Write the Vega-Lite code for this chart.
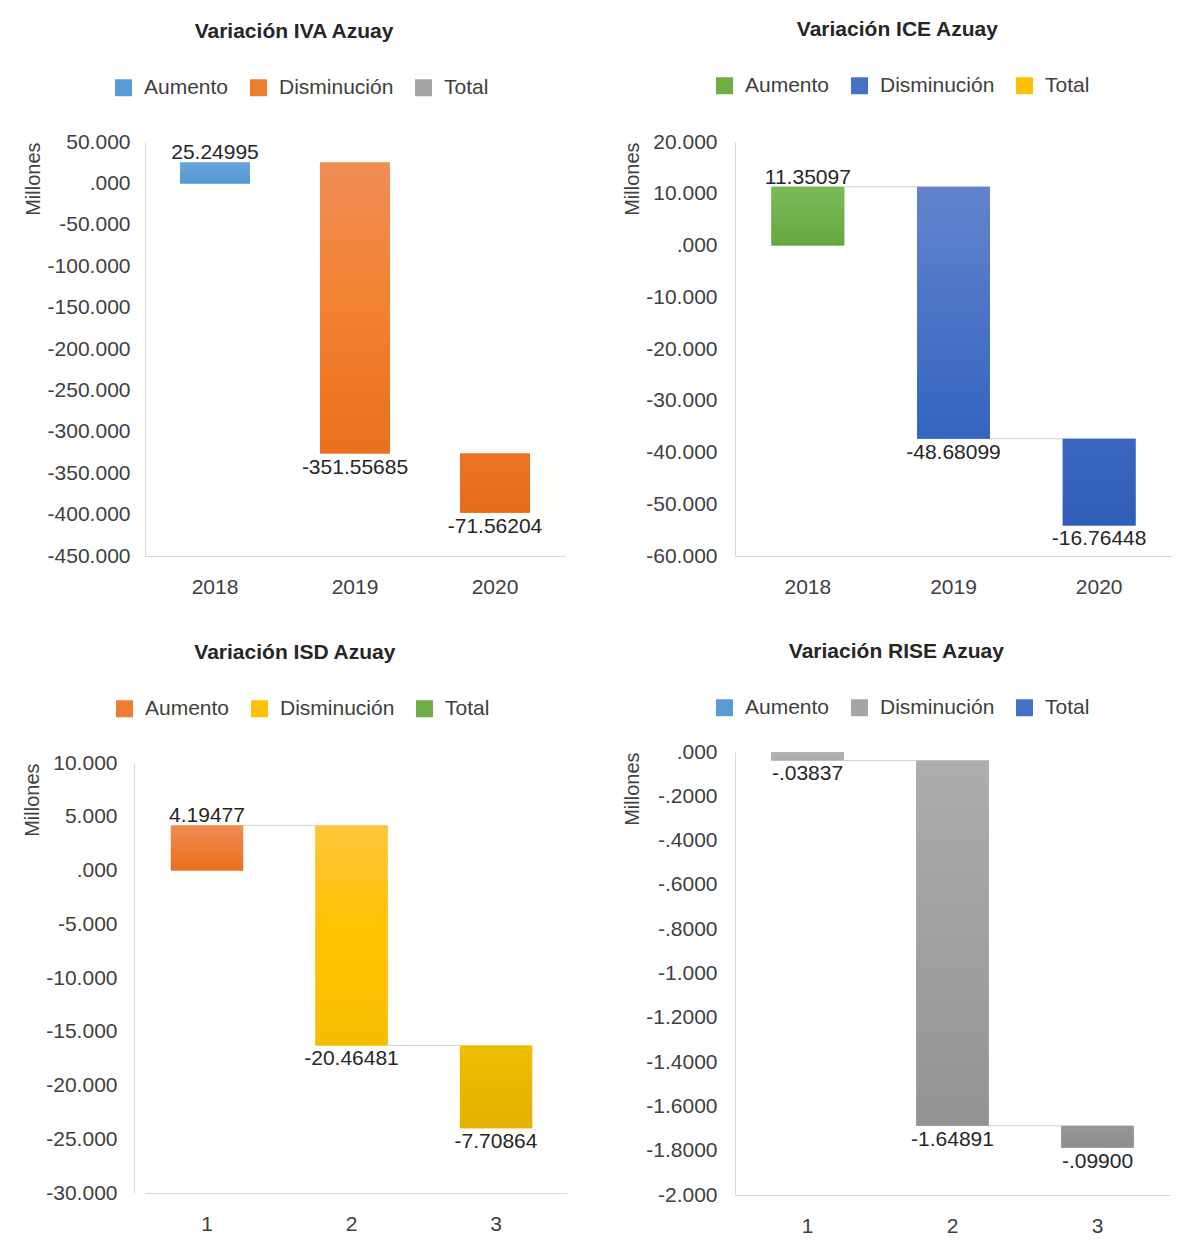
{
"$schema":"https://vega.github.io/schema/vega-lite/v6.json",
"padding":{"left":22,"top":19,"right":5,"bottom":5},
"spacing":55,
"datasets":{"bars":[
{"panel":"IVA","cat":"2018","type":"Aumento","start":0,"end":25.24995,"label":"25.24995"},
{"panel":"IVA","cat":"2019","type":"Disminución","start":25.24995,"end":-326.3069,"label":"-351.55685"},
{"panel":"IVA","cat":"2020","type":"Disminución","start":-326.3069,"end":-397.86894,"label":"-71.56204"},
{"panel":"ICE","cat":"2018","type":"Aumento","start":0,"end":11.35097,"label":"11.35097","next":"2019"},
{"panel":"ICE","cat":"2019","type":"Disminución","start":11.35097,"end":-37.33002,"label":"-48.68099","next":"2020"},
{"panel":"ICE","cat":"2020","type":"Disminución","start":-37.33002,"end":-54.0945,"label":"-16.76448"},
{"panel":"ISD","cat":"1","type":"Aumento","start":0,"end":4.19477,"label":"4.19477","next":"2"},
{"panel":"ISD","cat":"2","type":"Disminución","start":4.19477,"end":-16.27004,"label":"-20.46481","next":"3"},
{"panel":"ISD","cat":"3","type":"Disminución","start":-16.27004,"end":-23.97868,"label":"-7.70864"},
{"panel":"RISE","cat":"1","type":"Disminución","start":0,"end":-0.03837,"label":"-.03837","next":"2"},
{"panel":"RISE","cat":"2","type":"Disminución","start":-0.03837,"end":-1.68728,"label":"-1.64891","next":"3"},
{"panel":"RISE","cat":"3","type":"Disminución","start":-1.68728,"end":-1.78628,"label":"-.09900"}
]},
"data":{"name":"bars"},
"resolve":{"scale":{"color":"independent","x":"independent","y":"independent"},"legend":{"color":"independent"}},
"hconcat":[
{"spacing":45,
 "resolve":{"scale":{"color":"independent","x":"independent","y":"independent"},"legend":{"color":"independent"}},
 "vconcat":[
 {"width":420,"height":414,
  "title":{"text":"Variación IVA Azuay"},
  "transform":[{"filter":"datum.panel == 'IVA'"}],
  "encoding":{
   "x":{"field":"cat","type":"nominal","title":null,"scale":{"paddingInner":0.5,"paddingOuter":0.25}},
   "y":{"field":"end","type":"quantitative","title":"Millones","scale":{"domain":[-450,50],"nice":false,"zero":false},
        "axis":{"labelPadding":15,"titlePadding":4,"values":[50,0,-50,-100,-150,-200,-250,-300,-350,-400,-450],"labelExpr":"datum.value == 0 ? '.000' : (datum.value < 0 ? '-' : '') + format(abs(datum.value), '.3f')"}}
  },
  "layer":[
   {"mark":"bar","encoding":{"y2":{"field":"start"},"color":{"field":"type","type":"nominal","scale":{"domain":["Aumento","Disminución","Total"],"range":["#5b9bd5","#ed7d31","#a5a5a5"]},"legend":{"title":null,"orient":"none","legendX":-32,"legendY":-65}}}},
   {"mark":"bar","encoding":{"y2":{"field":"start"},"fill":{"condition":[
      {"test":"datum.cat == '2018'","value":{"gradient":"linear","x1":0,"y1":0,"x2":0,"y2":1,"stops":[{"offset":0,"color":"#6aa6dc"},{"offset":1,"color":"#5597d3"}]}},
      {"test":"datum.cat == '2019'","value":{"gradient":"linear","x1":0,"y1":0,"x2":0,"y2":1,"stops":[{"offset":0,"color":"#f08d55"},{"offset":0.5,"color":"#f38130"},{"offset":1,"color":"#e9701e"}]}}],
      "value":{"gradient":"linear","x1":0,"y1":0,"x2":0,"y2":1,"stops":[{"offset":0,"color":"#eb7522"},{"offset":1,"color":"#e56b1b"}]}}}},
   {"transform":[{"filter":"datum.type == 'Aumento'"}],"mark":{"type":"text","dy":-3,"baseline":"alphabetic"},"encoding":{"text":{"field":"label"}}},
   {"transform":[{"filter":"datum.type == 'Disminución'"}],"mark":{"type":"text","dy":20,"baseline":"alphabetic"},"encoding":{"text":{"field":"label"}}}
  ]},
 {"width":422,"height":430,
  "title":{"text":"Variación ISD Azuay"},
  "transform":[{"filter":"datum.panel == 'ISD'"}],
  "encoding":{
   "x":{"field":"cat","type":"nominal","title":null,"scale":{"paddingInner":0.5,"paddingOuter":0.21,"align":0.426}},
   "y":{"field":"end","type":"quantitative","title":"Millones","scale":{"domain":[-30,10],"nice":false,"zero":false},
        "axis":{"offset":11,"labelPadding":17,"titlePadding":3,"values":[10,5,0,-5,-10,-15,-20,-25,-30],"labelExpr":"datum.value == 0 ? '.000' : (datum.value < 0 ? '-' : '') + format(abs(datum.value), '.3f')"}}
  },
  "layer":[
   {"transform":[{"filter":"isValid(datum.next)"}],"mark":{"type":"rule","color":"#d0d0d0","strokeWidth":1},
    "encoding":{"x":{"field":"cat","type":"nominal","title":null,"bandPosition":1,"scale":{"paddingInner":0.5,"paddingOuter":0.21,"align":0.426}},"x2":{"field":"next","bandPosition":0}}},
   {"mark":"bar","encoding":{"y2":{"field":"start"},"color":{"field":"type","type":"nominal","scale":{"domain":["Aumento","Disminución","Total"],"range":["#ed7d31","#ffc000","#70ad47"]},"legend":{"title":null,"orient":"none","legendX":-31,"legendY":-65}}}},
   {"mark":"bar","encoding":{"y2":{"field":"start"},"fill":{"condition":[
      {"test":"datum.cat == '1'","value":{"gradient":"linear","x1":0,"y1":0,"x2":0,"y2":1,"stops":[{"offset":0,"color":"#f08c52"},{"offset":1,"color":"#e8701f"}]}},
      {"test":"datum.cat == '2'","value":{"gradient":"linear","x1":0,"y1":0,"x2":0,"y2":1,"stops":[{"offset":0,"color":"#ffc43a"},{"offset":0.5,"color":"#ffc400"},{"offset":1,"color":"#f4be00"}]}}],
      "value":{"gradient":"linear","x1":0,"y1":0,"x2":0,"y2":1,"stops":[{"offset":0,"color":"#efbd00"},{"offset":1,"color":"#e3b100"}]}}}},
   {"transform":[{"filter":"datum.type == 'Aumento'"}],"mark":{"type":"text","dy":-3,"baseline":"alphabetic"},"encoding":{"text":{"field":"label"}}},
   {"transform":[{"filter":"datum.type == 'Disminución'"}],"mark":{"type":"text","dy":20,"baseline":"alphabetic"},"encoding":{"text":{"field":"label"}}}
  ]}
 ]},
{"spacing":44,
 "resolve":{"scale":{"color":"independent","x":"independent","y":"independent"},"legend":{"color":"independent"}},
 "vconcat":[
 {"width":437,"height":414,
  "title":{"text":"Variación ICE Azuay"},
  "transform":[{"filter":"datum.panel == 'ICE'"}],
  "encoding":{
   "x":{"field":"cat","type":"nominal","title":null,"scale":{"paddingInner":0.5,"paddingOuter":0.25}},
   "y":{"field":"end","type":"quantitative","title":"Millones","scale":{"domain":[-60,20],"nice":false,"zero":false},
        "axis":{"labelPadding":18,"titlePadding":3,"values":[20,10,0,-10,-20,-30,-40,-50,-60],"labelExpr":"datum.value == 0 ? '.000' : (datum.value < 0 ? '-' : '') + format(abs(datum.value), '.3f')"}}
  },
  "layer":[
   {"transform":[{"filter":"isValid(datum.next)"}],"mark":{"type":"rule","color":"#d0d0d0","strokeWidth":1},
    "encoding":{"x":{"field":"cat","type":"nominal","title":null,"bandPosition":1,"scale":{"paddingInner":0.5,"paddingOuter":0.25}},"x2":{"field":"next","bandPosition":0}}},
   {"mark":"bar","encoding":{"y2":{"field":"start"},"color":{"field":"type","type":"nominal","scale":{"domain":["Aumento","Disminución","Total"],"range":["#70ad47","#4472c4","#ffc000"]},"legend":{"title":null,"orient":"none","legendX":-21,"legendY":-67}}}},
   {"mark":"bar","encoding":{"y2":{"field":"start"},"fill":{"condition":[
      {"test":"datum.cat == '2018'","value":{"gradient":"linear","x1":0,"y1":0,"x2":0,"y2":1,"stops":[{"offset":0,"color":"#7db95a"},{"offset":1,"color":"#67a83e"}]}},
      {"test":"datum.cat == '2019'","value":{"gradient":"linear","x1":0,"y1":0,"x2":0,"y2":1,"stops":[{"offset":0,"color":"#6384cc"},{"offset":0.5,"color":"#4a74c6"},{"offset":1,"color":"#3565bf"}]}}],
      "value":{"gradient":"linear","x1":0,"y1":0,"x2":0,"y2":1,"stops":[{"offset":0,"color":"#3a68c0"},{"offset":1,"color":"#2f5db8"}]}}}},
   {"transform":[{"filter":"datum.type == 'Aumento'"}],"mark":{"type":"text","dy":-3,"baseline":"alphabetic"},"encoding":{"text":{"field":"label"}}},
   {"transform":[{"filter":"datum.type == 'Disminución'"}],"mark":{"type":"text","dy":20,"baseline":"alphabetic"},"encoding":{"text":{"field":"label"}}}
  ]},
 {"width":435,"height":443,
  "title":{"text":"Variación RISE Azuay"},
  "transform":[{"filter":"datum.panel == 'RISE'"}],
  "encoding":{
   "x":{"field":"cat","type":"nominal","title":null,"scale":{"paddingInner":0.5,"paddingOuter":0.25}},
   "y":{"field":"end","type":"quantitative","title":"Millones","scale":{"domain":[-2,0],"nice":false,"zero":false},
        "axis":{"labelPadding":18,"titlePadding":3,"values":[0,-0.2,-0.4,-0.6,-0.8,-1,-1.2,-1.4,-1.6,-1.8,-2],"labelExpr":"datum.value == 0 ? '.000' : (abs(datum.value) % 1 == 0 ? '-' + format(abs(datum.value), '.3f') : (abs(datum.value) < 1 ? '-.' + substring(format(abs(datum.value), '.4f'), 2) : '-' + format(abs(datum.value), '.4f')))"}}
  },
  "layer":[
   {"transform":[{"filter":"isValid(datum.next)"}],"mark":{"type":"rule","color":"#d0d0d0","strokeWidth":1},
    "encoding":{"x":{"field":"cat","type":"nominal","title":null,"bandPosition":1,"scale":{"paddingInner":0.5,"paddingOuter":0.25}},"x2":{"field":"next","bandPosition":0}}},
   {"mark":"bar","encoding":{"y2":{"field":"start"},"color":{"field":"type","type":"nominal","scale":{"domain":["Aumento","Disminución","Total"],"range":["#5b9bd5","#a5a5a5","#4472c4"]},"legend":{"title":null,"orient":"none","legendX":-21,"legendY":-55}}}},
   {"mark":"bar","encoding":{"y2":{"field":"start"},"fill":{"condition":[
      {"test":"datum.cat == '1'","value":{"gradient":"linear","x1":0,"y1":0,"x2":0,"y2":1,"stops":[{"offset":0,"color":"#b2b2b2"},{"offset":1,"color":"#acacac"}]}},
      {"test":"datum.cat == '2'","value":{"gradient":"linear","x1":0,"y1":0,"x2":0,"y2":1,"stops":[{"offset":0,"color":"#adadad"},{"offset":1,"color":"#939393"}]}}],
      "value":{"gradient":"linear","x1":0,"y1":0,"x2":0,"y2":1,"stops":[{"offset":0,"color":"#969696"},{"offset":1,"color":"#8e8e8e"}]}}}},
   {"transform":[{"filter":"datum.type == 'Disminución'"}],"mark":{"type":"text","dy":20,"baseline":"alphabetic"},"encoding":{"text":{"field":"label"}}}
  ]}
 ]}
],
"config":{
 "font":"Liberation Sans",
 "view":{"stroke":null},
 "axis":{"labelFontSize":21,"labelColor":"#404040","domainColor":"#d9d9d9","ticks":false,"tickSize":0,"grid":false,"titleFontSize":20,"titleFontWeight":"normal","titleColor":"#404040","labelFlush":false},
 "axisX":{"labelAngle":0,"labelPadding":20},
 "axisY":{"titleAnchor":"end"},
 "legend":{"direction":"horizontal","symbolType":"square","symbolSize":289,"symbolStrokeWidth":0,"labelFontSize":21,"labelColor":"#404040","labelOffset":10,"columnPadding":19},
 "title":{"fontSize":21,"fontWeight":"bold","color":"#262626","offset":35,"frame":"bounds"},
 "text":{"fontSize":21,"color":"#262626"}
}
}
